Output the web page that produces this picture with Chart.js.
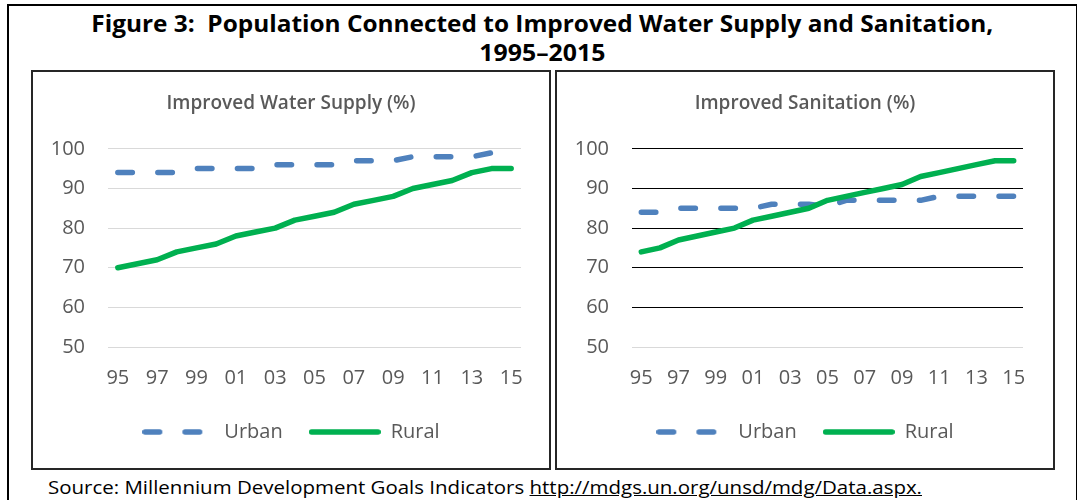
<!DOCTYPE html>
<html>
<head>
<meta charset="utf-8">
<script src="https://cdn.jsdelivr.net/npm/chart.js@4.4.1/dist/chart.umd.min.js"></script>
<style>
  html, body { margin: 0; padding: 0; background: #fff; }
  body { width: 1084px; height: 500px; position: relative; overflow: hidden; font-family: 'Open Sans', sans-serif; }
  .frame { position: absolute; left: 7px; top: 4px; width: 1067px; height: 520px; border-top: 2px solid #000; border-left: 2px solid #000; border-right: 1px solid #000; }
  .line { position: absolute; left: 0; width: 1084px; text-align: center; white-space: nowrap; }
  .line span { display: inline-block; transform-origin: center; }
  .title { font-weight: 700; font-size: 23px; color: #000; }
  .panel { position: absolute; top: 70px; height: 396px; border: 2px solid #262626; }
  .panel canvas { display: block; }
  .source { position: absolute; left: 48px; top: 475px; font-size: 18px; color: #000; white-space: nowrap; transform-origin: left center; }
  .source a { color: #000; text-decoration: underline; }
</style>
</head>
<body>
<div class="frame"></div>
<div class="line title" style="top:7px"><span id="t1">Figure 3:&nbsp; Population Connected to Improved Water Supply and Sanitation,</span></div>
<div class="line title" style="top:36px"><span id="t2">1995–2015</span></div>

<div class="panel" style="left:31px; width:516px;"><canvas id="waterChart" width="516" height="396"></canvas></div>
<div class="panel" style="left:555px; width:496px;"><canvas id="sanChart" width="496" height="396"></canvas></div>

<div class="source" id="src">Source: Millennium Development Goals Indicators <a>http://mdgs.un.org/unsd/mdg/Data.aspx.</a></div>

<script>
// Data (percent of population)
const years = ['95', '96', '97', '98', '99', '00', '01', '02', '03', '04', '05', '06', '07', '08', '09', '10', '11', '12', '13', '14', '15'];
const yTicks = [50, 60, 70, 80, 90, 100];

const waterUrban = [94, 94, 94, 94, 95, 95, 95, 95, 96, 96, 96, 96, 97, 97, 97, 98, 98, 98, 98, 99, 99];
const waterRural = [70, 71, 72, 74, 75, 76, 78, 79, 80, 82, 83, 84, 86, 87, 88, 90, 91, 92, 94, 95, 95];

const sanUrban = [84, 84, 85, 85, 85, 85, 85, 86, 86, 86, 85.5, 87, 87, 87, 87, 87, 88, 88, 88, 88, 88];
const sanRural = [74, 75, 77, 78, 79, 80, 82, 83, 84, 85, 87, 88, 89, 90, 91, 93, 94, 95, 96, 97, 97];

const URBAN_COLOR = '#4f81bd';
const RURAL_COLOR = '#00b050';
const TEXT_COLOR = '#595959';
const FONT = "'Open Sans', sans-serif";

// squeeze/stretch a text span to the width it has in the figure
function fitWidth(id, target) {
  const el = document.getElementById(id);
  const w = el.getBoundingClientRect().width;
  el.style.transform = 'scaleX(' + (target / w) + ')';
}
fitWidth('t1', 902);
fitWidth('t2', 126);
fitWidth('src', 874);

/**
 * small legend swatch: dashed or solid thick line
 */
function legendSwatch(color, dash) {
  const c = document.createElement('canvas');
  c.width = 72;
  c.height = 8;
  const g = c.getContext('2d');
  g.strokeStyle = color;
  g.lineWidth = 5.5;
  g.lineCap = 'round';
  g.setLineDash(dash);
  g.beginPath();
  g.moveTo(2.75, 4);
  g.lineTo(69.25, 4);
  g.stroke();
  return c;
}

function makeChart(canvasId, title, urban, rural, gridColor, rightGap) {
  const ctx = document.getElementById(canvasId).getContext('2d');
  return new Chart(ctx, {
    type: 'line',
    data: {
      labels: years,
      datasets: [
        {
          label: 'Urban',
          data: urban,
          borderColor: URBAN_COLOR,
          borderWidth: 5.5,
          borderDash: [14.5, 25.5],
          borderCapStyle: 'round',
          borderJoinStyle: 'round',
          pointRadius: 0,
          pointHoverRadius: 0,
          pointStyle: legendSwatch(URBAN_COLOR, [14.5, 25.5]),
          tension: 0,
          order: 1
        },
        {
          label: 'Rural',
          data: rural,
          borderColor: RURAL_COLOR,
          borderWidth: 5.5,
          borderCapStyle: 'round',
          borderJoinStyle: 'round',
          pointRadius: 0,
          pointHoverRadius: 0,
          pointStyle: legendSwatch(RURAL_COLOR, []),
          tension: 0,
          order: 0
        }
      ]
    },
    options: {
      responsive: false,
      animation: false,
      layout: { padding: { left: 0, right: 0, top: 0, bottom: 16 } },
      plugins: {
        title: {
          display: true,
          text: title,
          color: TEXT_COLOR,
          font: { family: FONT, size: 19, weight: '600', lineHeight: 1.2 },
          padding: { top: 20, bottom: 34 }
        },
        legend: {
          position: 'bottom',
          labels: {
            usePointStyle: true,
            pointStyleWidth: 72,
            color: TEXT_COLOR,
            font: { family: FONT, size: 20 },
            padding: 26,
            sort: (a, b) => a.datasetIndex - b.datasetIndex
          }
        },
        tooltip: { enabled: false }
      },
      scales: {
        x: {
          offset: true,
          grid: { display: false, drawTicks: false },
          border: { display: false },
          ticks: {
            autoSkip: false,
            maxRotation: 0,
            padding: 19,
            color: TEXT_COLOR,
            font: { family: FONT, size: 20 },
            callback: (v, i) => (i % 2 === 0 ? years[i] : '')
          },
          afterFit: s => { s.height = 49; }
        },
        y: {
          min: yTicks[0],
          max: yTicks[yTicks.length - 1],
          grid: { color: gridColor, lineWidth: 1, drawTicks: false },
          border: { display: false },
          ticks: {
            stepSize: yTicks[1] - yTicks[0],
            padding: 23,
            color: TEXT_COLOR,
            font: { family: FONT, size: 20 }
          },
          afterFit: s => { s.width = 75; }
        },
        // empty axis that only keeps a gap on the right of the plot
        gap: {
          position: 'right',
          grid: { display: false, drawTicks: false },
          border: { display: false },
          ticks: { display: false },
          afterFit: s => { s.width = rightGap; }
        }
      }
    }
  });
}

makeChart('waterChart', 'Improved Water Supply (%)', waterUrban, waterRural, '#d9d9d9', 28);
makeChart('sanChart', 'Improved Sanitation (%)', sanUrban, sanRural,
  c => (c.tick && c.tick.value === yTicks[0] ? '#d9d9d9' : '#000000'), 30);
</script>
</body>
</html>
